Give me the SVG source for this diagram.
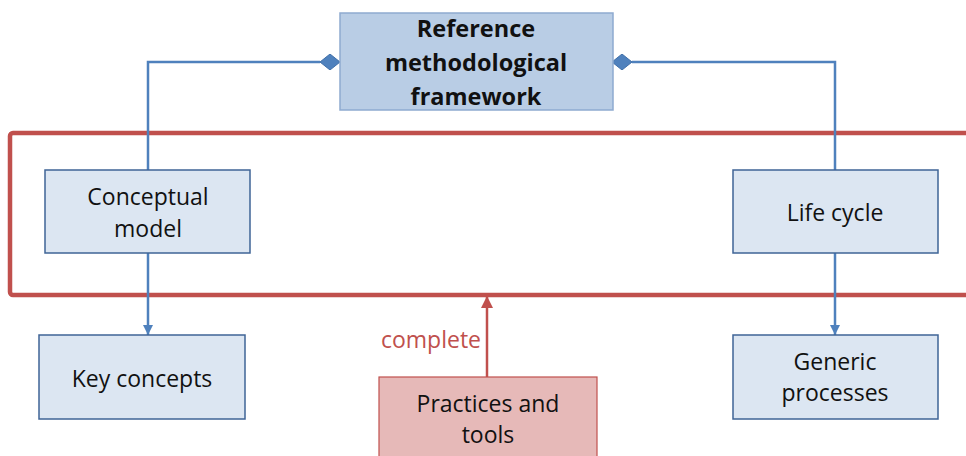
<svg xmlns="http://www.w3.org/2000/svg" width="966" height="456" viewBox="0 0 966 456">
<style>
.blue{fill:#dce6f2;stroke:#3f6496;stroke-width:1.5}
.top{fill:#b9cde5;stroke:#8eaad0;stroke-width:1.5}
.pink{fill:#e6b9b8;stroke:#c0504d;stroke-width:1.2}
.t{font-family:"Open Sans","Liberation Sans",sans-serif;font-size:23px;fill:#111;text-anchor:middle}
.tb{font-family:"Open Sans","Liberation Sans",sans-serif;font-size:23.5px;font-weight:bold;fill:#111;text-anchor:middle}
.c{fill:none;stroke:#4f81bd;stroke-width:2.5}
.r{fill:none;stroke:#c0504d;stroke-width:2.5}
</style>
<defs>
<marker id="dia" viewBox="0 0 20 16" refX="0" refY="8" markerWidth="20" markerHeight="16" markerUnits="userSpaceOnUse" orient="auto">
<path d="M0,8 L10,0 L20,8 L10,16 Z" fill="#4f81bd" stroke="#3f6ea8" stroke-width="1"/>
</marker>
<marker id="arr" viewBox="0 0 10 10" refX="10" refY="5" markerWidth="10" markerHeight="10" markerUnits="userSpaceOnUse" orient="auto">
<path d="M0,0 L10,5 L0,10 Z" fill="#4f81bd"/>
</marker>
<marker id="arrR" viewBox="0 0 12 12" refX="12" refY="6" markerWidth="12" markerHeight="12" markerUnits="userSpaceOnUse" orient="auto">
<path d="M0,0 L12,6 L0,12 Z" fill="#c0504d"/>
</marker>
</defs>
<rect x="10" y="133" width="970" height="162" rx="3" fill="none" stroke="#c0504d" stroke-width="4.5"/>
<g id="connectors">
<path class="c" d="M148,170 V62 H320" marker-end="url(#dia)"/>
<path class="c" d="M835,170 V62 H632" marker-end="url(#dia)"/>
<path class="c" d="M148,253 V335" marker-end="url(#arr)"/>
<path class="c" d="M835,253 V335" marker-end="url(#arr)"/>
<path class="r" d="M487,377 V296" marker-end="url(#arrR)"/>
<text x="431" y="348" font-family="'Open Sans','Liberation Sans',sans-serif" font-size="23" fill="#c0504d" text-anchor="middle">complete</text>
</g>
<g id="framework">
<rect class="top" x="340" y="13" width="273" height="97"/>
<text class="tb" x="476" y="37">Reference</text>
<text class="tb" x="476" y="71">methodological</text>
<text class="tb" x="476" y="105">framework</text>
</g>
<g id="conceptual">
<rect class="blue" x="45" y="170" width="205" height="83"/>
<text class="t" x="148" y="205">Conceptual</text>
<text class="t" x="148" y="237">model</text>
</g>
<g id="lifecycle">
<rect class="blue" x="733" y="170" width="205" height="83"/>
<text class="t" x="835" y="221">Life cycle</text>
</g>
<g id="keyconcepts">
<rect class="blue" x="39" y="335" width="206" height="84"/>
<text class="t" x="142" y="387">Key concepts</text>
</g>
<g id="generic">
<rect class="blue" x="733" y="335" width="205" height="84"/>
<text class="t" x="835" y="370">Generic</text>
<text class="t" x="835" y="401">processes</text>
</g>
<g id="practices">
<rect class="pink" x="379" y="377" width="218" height="90"/>
<text class="t" x="488" y="412">Practices and</text>
<text class="t" x="488" y="443">tools</text>
</g>
</svg>
